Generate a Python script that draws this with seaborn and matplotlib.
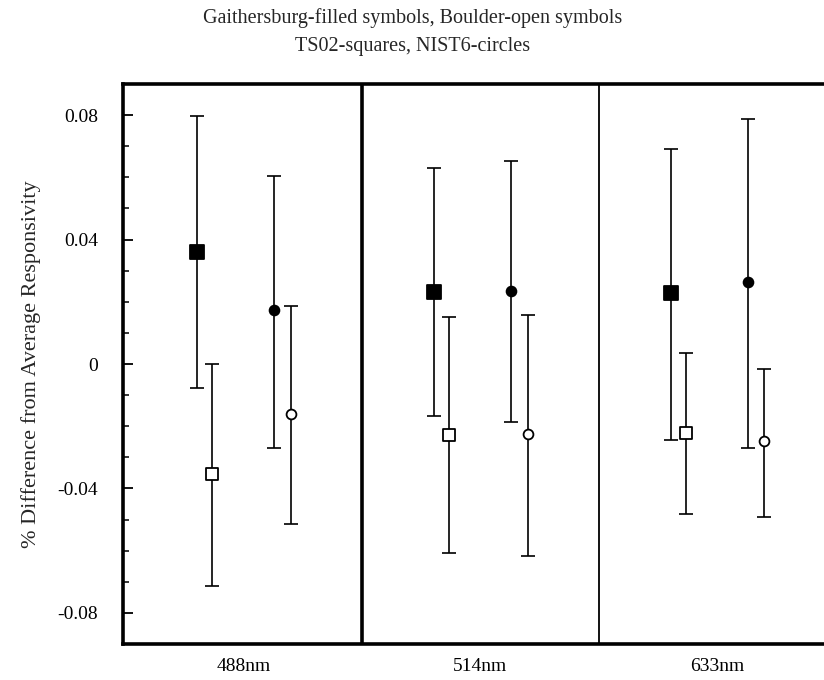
# Responsivity comparison: Gaithersburg vs Boulder, TS02 and NIST6
import numpy as np
import pandas as pd
import matplotlib
matplotlib.use("Agg")
import matplotlib.pyplot as plt
import seaborn as sns

# --------------------------------------------
# data
# --------------------------------------------
wavelengths = ["488nm", "514nm", "633nm"]
ytick_vals = [-0.08, -0.04, 0.0, 0.04, 0.08]
ytick_labels = ["-0.08", "-0.04", "0", "0.04", "0.08"]

ts02_gai = [0.0360, 0.0233, 0.0228]
ts02_gai_lo = [-0.0078, -0.0166, -0.0244]
ts02_gai_hi = [0.0796, 0.0630, 0.0692]

ts02_bou = [-0.0355, -0.0228, -0.0222]
ts02_bou_lo = [-0.0715, -0.0606, -0.0482]
ts02_bou_hi = [0.0000, 0.0150, 0.0035]

nist6_gai = [0.0173, 0.0235, 0.0262]
nist6_gai_lo = [-0.0270, -0.0187, -0.0270]
nist6_gai_hi = [0.0603, 0.0652, 0.0786]

nist6_bou = [-0.0161, -0.0224, -0.0249]
nist6_bou_lo = [-0.0513, -0.0617, -0.0492]
nist6_bou_hi = [0.0185, 0.0159, -0.0016]

# --------------------------------------------
# long table, one row per point
# --------------------------------------------
series = [
    ("TS02 Gaithersburg", ts02_gai, ts02_gai_lo, ts02_gai_hi, -0.196, "s", "black", 100),
    ("TS02 Boulder", ts02_bou, ts02_bou_lo, ts02_bou_hi, -0.133, "s", "white", 80),
    ("NIST6 Gaithersburg", nist6_gai, nist6_gai_lo, nist6_gai_hi, 0.129, "o", "black", 50),
    ("NIST6 Boulder", nist6_bou, nist6_bou_lo, nist6_bou_hi, 0.200, "o", "white", 50),
]

rows = []
for name, vals, lo, hi, off, mk, fc, sz in series:
    for i, w in enumerate(wavelengths):
        rows.append({"series": name, "wavelength": w, "x": i + off,
                     "y": vals[i], "lo": lo[i], "hi": hi[i]})
df = pd.DataFrame(rows)

# --------------------------------------------
# plot
# --------------------------------------------
sns.set_theme(style="ticks")
plt.rcParams["font.family"] = ["Liberation Serif", "DejaVu Serif"]

fig = plt.figure(figsize=(8.24, 6.8), dpi=100)
ax = fig.add_axes([123 / 824, 1 - 644 / 680, 1 - 123 / 824, (644 - 84) / 680])

for name, vals, lo, hi, off, mk, fc, sz in series:
    d = df[df["series"] == name]
    ax.errorbar(d["x"], d["y"], yerr=[d["y"] - d["lo"], d["hi"] - d["y"]],
                fmt="none", ecolor="black", elinewidth=1.2,
                capsize=4.7, capthick=1.2, zorder=2)
    sns.scatterplot(data=d, x="x", y="y", marker=mk, s=sz, color=fc,
                    edgecolor="black", linewidth=1.3, ax=ax, zorder=3,
                    legend=False)

ax.axvline(0.5, color="black", lw=2.6, zorder=1)
ax.axvline(1.5, color="black", lw=1.3, zorder=1)

ax.set_xlim(-0.509, 2.452)
ax.set_ylim(-0.09, 0.09)
ax.set_xticks(range(len(wavelengths)))
ax.set_xticklabels(wavelengths)
ax.set_yticks(ytick_vals)
ax.set_yticklabels(ytick_labels)
ax.set_yticks(np.arange(-0.09, 0.0901, 0.01), minor=True)
ax.tick_params(axis="y", which="major", direction="in", length=7, width=1.3,
               pad=18, labelsize=14, colors="black")
ax.tick_params(axis="y", which="minor", direction="in", length=4.5, width=1.3)
ax.tick_params(axis="x", length=0, pad=10, labelsize=14, colors="black")

ax.set_xlabel("")
ax.set_ylabel("% Difference from Average Responsivity", fontsize=16, labelpad=12)

for side in ["left", "top", "bottom"]:
    ax.spines[side].set_linewidth(2.6)
    ax.spines[side].set_color("black")
ax.spines["right"].set_visible(False)

fig.text(0.501, 1 - 18 / 680, "Gaithersburg-filled symbols, Boulder-open symbols",
         ha="center", va="center", fontsize=14.5)
fig.text(0.501, 1 - 46 / 680, "TS02-squares, NIST6-circles",
         ha="center", va="center", fontsize=14.5)

fig.savefig("out.png", dpi=100)
plt.close(fig)
